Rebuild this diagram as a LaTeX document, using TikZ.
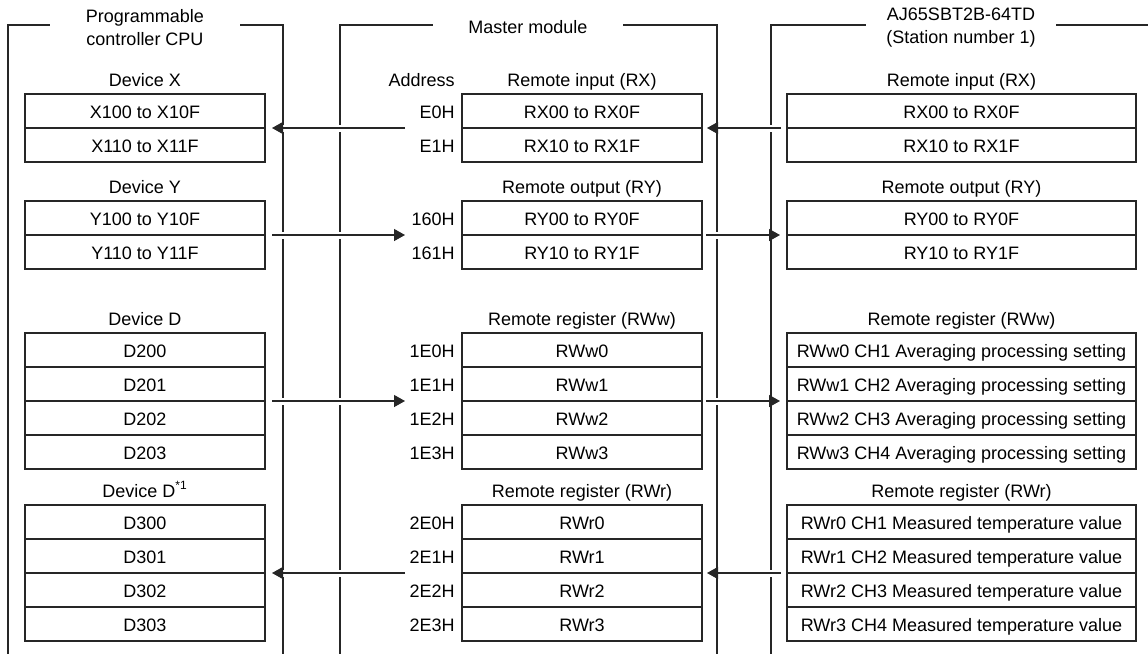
\documentclass[tikz,border=0pt]{standalone}
\usepackage{fontspec}
\setmainfont{Liberation Sans}
\usetikzlibrary{arrows.meta,calc,positioning}

\begin{document}
\begin{tikzpicture}[x=0.5pt,y=-0.5pt,font=\fontsize{9}{11.5}\selectfont,
   frame/.style={line width=.65pt,draw=black!85},
   cell/.style={draw=black!85,line width=.65pt,minimum height=17pt,inner sep=0pt,outer sep=0pt,text height=8.2pt,text depth=.3pt},
   cpu/.style={cell,minimum width=120pt},
   mst/.style={cell,minimum width=120pt},
   rmt/.style={cell,minimum width=174.5pt},
   head/.style={anchor=base,inner sep=0pt},
   addr/.style={left=3.5pt of #1,inner sep=0pt,text height=8.2pt,text depth=.3pt},
   title/.style={minimum width=95pt,align=center,inner sep=0pt},
   arr/.style={line width=.65pt,draw=black!85,-{Triangle[length=5.5pt,width=6pt]},preaction={draw=white,line width=3.5pt,-}}]
   \useasboundingbox (0,0) rectangle (1148,654);
   % titles and frames
   \node[title] (tcpu) at (145,28) {Programmable\\controller CPU};
   \node[title,anchor=base] (tmst) at (528,33) {Master module};
   \node[title] (trmt) at (961,28) {AJ65SBT2B-64TD\\(Station number 1)};
   \draw[frame] (tcpu.west |- 0,25) -- (8,25) -- (8,654);
   \draw[frame] (tcpu.east |- 0,25) -- (283,25) -- (283,654);
   \draw[frame] (tmst.west |- 0,25) -- (340,25) -- (340,654);
   \draw[frame] (tmst.east |- 0,25) -- (717,25) -- (717,654);
   \draw[frame] (trmt.west |- 0,25) -- (771,25) -- (771,654);
   \draw[frame] (trmt.east |- 0,25) -- (1148,25);
   % headings
   \node[head] (hcx) at (145,86) {Device X};
   \node[head,anchor=base east] (hax) at (455,86) {Address};
   \node[head] (hmx) at (582,86) {Remote input (RX)};
   \node[head] (hrx) at (961.5,86) {Remote input (RX)};
   \node[head] (hcy) at (145,193) {Device Y};
   \node[head] (hmy) at (582,193) {Remote output (RY)};
   \node[head] (hry) at (961.5,193) {Remote output (RY)};
   \node[head] (hcw) at (145,325) {Device D};
   \node[head] (hmw) at (582,325) {Remote register (RWw)};
   \node[head] (hrw) at (961.5,325) {Remote register (RWw)};
   \node[head] (hcr) at (145,497) {Device D\textsuperscript{*1}};
   \node[head] (hmr) at (582,497) {Remote register (RWr)};
   \node[head] (hrr) at (961.5,497) {Remote register (RWr)};
   % remote input / output
   \foreach \i/\q in {1/0,2/1}{
      \node[cpu] (cx\i) at (145,77+34*\i) {X1\q0 to X1\q F};
      \node[mst] (mx\i) at (582,77+34*\i) {RX\q0 to RX\q F};
      \node[rmt] (rx\i) at (961.5,77+34*\i) {RX\q0 to RX\q F};
      \node[addr=mx\i] (ax\i) {E\q H};
      \node[cpu] (cy\i) at (145,184+34*\i) {Y1\q0 to Y1\q F};
      \node[mst] (my\i) at (582,184+34*\i) {RY\q0 to RY\q F};
      \node[rmt] (ry\i) at (961.5,184+34*\i) {RY\q0 to RY\q F};
      \node[addr=my\i] (ay\i) {16\q H};
   }
   % remote registers
   \foreach \i/\q in {1/0,2/1,3/2,4/3}{
      \node[cpu] (cw\i) at (145,316+34*\i) {D20\q};
      \node[mst] (mw\i) at (582,316+34*\i) {RWw\q};
      \node[rmt] (rw\i) at (961.5,316+34*\i) {RWw\q{} CH\i{} Averaging processing setting};
      \node[addr=mw\i] (aw\i) {1E\q H};
      \node[cpu] (cr\i) at (145,488+34*\i) {D30\q};
      \node[mst] (mr\i) at (582,488+34*\i) {RWr\q};
      \node[rmt] (rr\i) at (961.5,488+34*\i) {RWr\q{} CH\i{} Measured temperature value};
      \node[addr=mr\i] (ar\i) {2E\q H};
   }
   % data flow
   \draw[arr] ($(rx1.south west)+(-6,0)$) -- ($(mx1.south east)+(5,0)$);
   \draw[arr] ($(mx1.south west)+(-57,0)$) -- ($(cx1.south east)+(7,0)$);
   \draw[arr] ($(cy1.south east)+(7,0)$) -- ($(my1.south west)+(-57,0)$);
   \draw[arr] ($(my1.south east)+(4,0)$) -- ($(ry1.south west)+(-7,0)$);
   \draw[arr] ($(cw2.south east)+(7,0)$) -- ($(mw2.south west)+(-57,0)$);
   \draw[arr] ($(mw2.south east)+(4,0)$) -- ($(rw2.south west)+(-7,0)$);
   \draw[arr] ($(rr2.south west)+(-6,0)$) -- ($(mr2.south east)+(5,0)$);
   \draw[arr] ($(mr2.south west)+(-57,0)$) -- ($(cr2.south east)+(7,0)$);
\end{tikzpicture}
\end{document}
